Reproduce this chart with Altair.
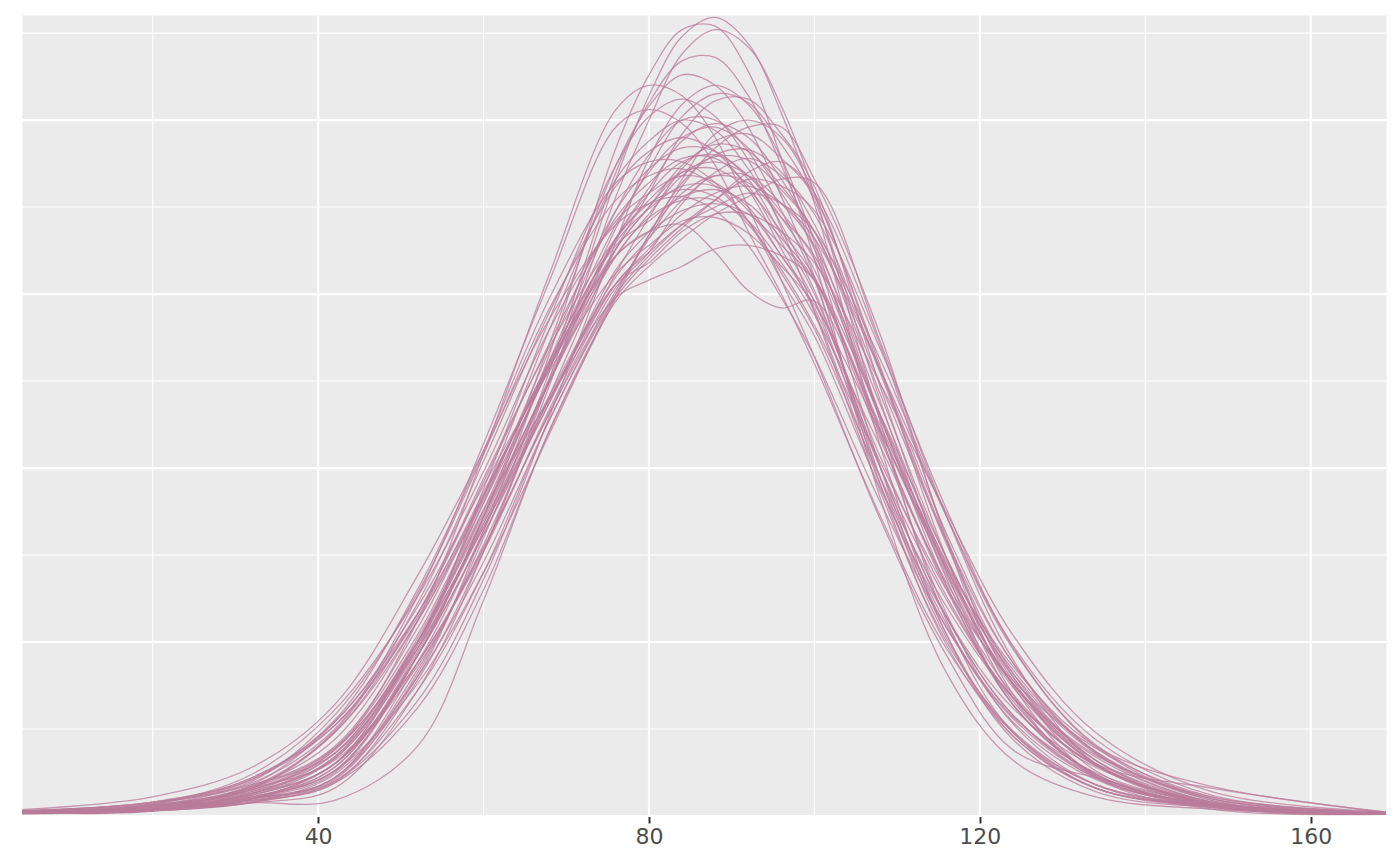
import altair as alt
import pandas as pd

# x positions (same for every draw) at which the density of each draw was read
GRID_X = [4.2, 20, 32, 42, 52, 60, 68, 76, 80, 84, 88, 92, 96, 100, 108, 116, 124, 134, 148, 169.1]

# density values (x 10^-3) of each posterior predictive draw
YREP = {
    "d01": [0.08, 0.15, 0.38, 0.8, 3.6, 7.6, 12.6, 18.3, 20.7, 22.4, 22.95, 22.2, 20.2, 17.6, 10.6, 5.2, 2.2, 0.7, 0.25, 0.07],
    "d02": [0.1, 0.17, 0.45, 1.1, 4.0, 8.2, 13.3, 19.2, 21.3, 22.6, 22.7, 21.4, 18.9, 16.0, 9.1, 4.1, 1.6, 0.55, 0.2, 0.06],
    "d03": [0.1, 0.2, 0.45, 0.95, 3.9, 7.6, 12.4, 17.8, 20.0, 21.9, 22.6, 22.1, 20.4, 17.9, 11.3, 5.6, 2.4, 0.8, 0.3, 0.08],
    "d04": [0.1, 0.2, 0.5, 1.05, 4.1, 8.0, 12.8, 18.5, 20.5, 21.7, 21.8, 20.7, 18.7, 16.3, 10.0, 5.2, 2.3, 0.8, 0.25, 0.07],
    "d05": [0.12, 0.25, 0.55, 1.3, 4.6, 8.6, 13.6, 18.7, 20.4, 21.3, 21.0, 19.8, 17.8, 15.5, 9.5, 4.9, 2.3, 0.8, 0.3, 0.08],
    "d06": [0.15, 0.3, 0.75, 1.9, 5.6, 10.4, 15.6, 20.3, 21.0, 20.7, 19.5, 17.5, 15.4, 13.2, 8.5, 4.6, 1.9, 1.1, 0.35, 0.08],
    "d07": [0.15, 0.38, 0.95, 2.5, 6.3, 10.7, 15.4, 19.8, 20.3, 19.9, 18.7, 16.8, 15.0, 13.0, 8.6, 4.8, 2.4, 0.8, 0.3, 0.08],
    "d08": [0.1, 0.2, 0.5, 1.1, 4.4, 8.2, 12.5, 16.9, 18.6, 20.1, 20.75, 20.5, 19.3, 17.7, 11.9, 6.8, 3.2, 1.2, 0.3, 0.07],
    "d09": [0.1, 0.2, 0.5, 1.1, 4.2, 7.8, 12.1, 16.3, 17.9, 19.6, 20.55, 20.6, 19.6, 18.1, 12.3, 7.0, 3.2, 1.2, 0.3, 0.07],
    "d10": [0.1, 0.15, 0.8, 1.6, 4.4, 7.7, 11.6, 15.1, 16.6, 18.1, 19.2, 19.8, 19.8, 18.3, 13.8, 7.9, 3.5, 1.1, 0.2, 0.05],
    "d11": [0.08, 0.2, 0.38, 0.45, 2.0, 6.2, 11.1, 14.8, 15.8, 16.6, 17.3, 17.8, 18.3, 18.2, 13.6, 8.6, 4.5, 1.5, 0.3, 0.06],
    "d12": [0.1, 0.22, 0.5, 1.25, 4.6, 8.6, 13.1, 17.4, 19.0, 20.0, 20.0, 19.1, 17.4, 15.4, 9.7, 5.1, 2.4, 0.9, 0.3, 0.07],
    "d13": [0.1, 0.25, 0.6, 1.5, 4.6, 8.6, 12.9, 16.1, 16.8, 17.0, 16.2, 15.1, 14.6, 14.8, 10.8, 6.5, 3.3, 1.2, 0.3, 0.07],
    "d14": [0.12, 0.3, 0.7, 1.9, 5.0, 8.8, 12.0, 14.9, 15.4, 15.8, 16.3, 16.4, 16.1, 15.4, 11.5, 7.4, 3.9, 1.3, 0.3, 0.07],
    "d15": [0.12, 0.3, 0.8, 2.45, 6.1, 10.2, 14.5, 18.1, 19.1, 19.5, 19.1, 18.0, 16.3, 14.5, 9.5, 5.4, 2.8, 1.1, 0.3, 0.08],
    "d16": [0.1, 0.28, 0.8, 2.4, 5.8, 9.6, 13.6, 17.2, 18.2, 18.9, 18.9, 18.1, 16.5, 14.8, 9.7, 5.5, 2.7, 1.05, 0.3, 0.07],
    "d17": [0.1, 0.22, 0.85, 2.0, 5.4, 9.2, 13.0, 16.3, 17.5, 18.5, 18.8, 18.4, 17.35, 16.0, 11.4, 7.1, 3.8, 1.6, 0.4, 0.08],
    "d18": [0.08, 0.18, 0.7, 1.65, 4.9, 8.4, 12.1, 15.5, 16.6, 17.7, 18.4, 18.4, 17.6, 16.4, 11.8, 7.2, 3.8, 1.5, 0.35, 0.06],
    "d19": [0.08, 0.18, 0.5, 1.5, 4.3, 7.7, 11.6, 15.2, 16.2, 17.6, 18.5, 18.9, 18.4, 17.3, 12.7, 7.8, 4.0, 1.5, 0.3, 0.06],
    "d20": [0.1, 0.2, 0.6, 1.5, 4.9, 8.8, 13.0, 17.0, 18.5, 19.5, 19.8, 19.2, 17.9, 16.3, 11.4, 6.9, 3.7, 1.5, 0.35, 0.07],
    "d21": [0.14, 0.35, 1.2, 3.05, 6.3, 9.9, 14.0, 17.1, 17.9, 18.4, 18.2, 17.4, 16.1, 14.6, 10.0, 6.2, 3.4, 1.45, 0.4, 0.09],
    "d22": [0.1, 0.2, 0.65, 1.5, 5.0, 8.7, 12.5, 16.3, 17.5, 18.7, 19.3, 19.1, 18.1, 16.8, 12.1, 7.4, 4.0, 1.6, 0.35, 0.07],
    "d23": [0.15, 0.4, 1.0, 2.9, 6.4, 10.4, 14.6, 17.7, 18.4, 18.6, 18.1, 17.1, 15.6, 14.0, 9.7, 6.0, 3.4, 1.5, 0.8, 0.1],
    "d24": [0.08, 0.2, 0.55, 1.3, 4.6, 8.1, 11.9, 15.6, 17.2, 18.6, 19.4, 19.6, 18.9, 17.8, 12.8, 7.9, 4.1, 1.6, 0.3, 0.06],
    "d25": [0.12, 0.3, 0.85, 2.4, 5.6, 9.1, 13.1, 16.4, 17.1, 17.8, 18.0, 17.6, 16.6, 15.4, 11.1, 7.1, 4.1, 1.8, 0.5, 0.1],
    "d26": [0.07, 0.15, 0.4, 1.2, 4.0, 7.3, 11.4, 15.0, 16.1, 17.0, 17.7, 18.3, 18.1, 17.4, 13.4, 8.8, 4.85, 2.0, 0.45, 0.07],
    "d27": [0.1, 0.25, 0.65, 1.7, 5.0, 9.2, 14.0, 18.3, 19.4, 20.0, 19.7, 18.6, 17.0, 15.1, 10.0, 5.7, 2.9, 1.15, 0.3, 0.07],
    "d28": [0.13, 0.32, 0.9, 2.7, 5.8, 9.2, 13.0, 16.1, 16.8, 17.4, 17.6, 17.3, 16.4, 15.4, 11.2, 7.3, 4.2, 1.85, 0.5, 0.1],
    "d29": [0.07, 0.15, 0.4, 1.0, 3.6, 7.0, 11.4, 14.9, 16.0, 16.9, 17.7, 18.5, 18.8, 17.9, 13.5, 8.0, 3.75, 1.15, 0.3, 0.05],
    "d30": [0.12, 0.3, 0.85, 2.2, 5.6, 9.2, 13.1, 16.5, 17.45, 18.1, 18.1, 17.5, 16.1, 14.8, 10.3, 6.3, 3.4, 1.45, 0.35, 0.08],
    "d31": [0.09, 0.2, 0.65, 1.7, 5.0, 8.6, 12.5, 16.1, 17.3, 18.4, 18.95, 18.85, 18.0, 16.8, 12.4, 7.9, 4.4, 1.85, 0.45, 0.07],
    "d32": [0.14, 0.35, 1.05, 2.75, 6.5, 10.5, 14.9, 18.2, 18.8, 18.8, 18.2, 17.1, 15.4, 13.8, 9.4, 5.7, 3.1, 1.4, 0.4, 0.1],
    "d33": [0.1, 0.25, 0.75, 1.8, 5.0, 8.3, 12.0, 15.3, 15.9, 16.8, 17.3, 17.3, 16.8, 15.9, 12.4, 8.7, 5.2, 2.4, 0.7, 0.12],
    "d34": [0.1, 0.22, 0.65, 1.8, 5.1, 9.0, 13.4, 17.4, 18.6, 19.2, 19.1, 18.3, 16.7, 15.0, 10.0, 5.7, 2.9, 1.1, 0.3, 0.07],
    "d35": [0.08, 0.18, 0.5, 1.5, 4.4, 7.6, 11.7, 15.3, 16.2, 17.0, 17.5, 17.9, 17.6, 16.8, 13.1, 8.6, 4.8, 2.05, 0.5, 0.08],
    "d36": [0.15, 0.4, 1.1, 2.7, 6.0, 9.5, 12.8, 15.6, 16.4, 17.1, 17.2, 16.75, 15.8, 14.7, 11.0, 7.2, 4.3, 2.0, 0.85, 0.12],
    "d37": [0.18, 0.55, 1.4, 3.2, 6.9, 10.5, 14.3, 17.0, 17.6, 17.8, 17.4, 16.4, 14.9, 13.2, 9.0, 5.4, 2.85, 1.25, 0.35, 0.09],
    "d38": [0.08, 0.18, 0.55, 1.4, 4.6, 8.1, 12.0, 15.3, 16.3, 17.3, 17.9, 18.1, 17.6, 16.6, 12.8, 8.6, 4.9, 2.2, 0.6, 0.09],
    "d39": [0.09, 0.2, 0.5, 1.4, 4.7, 8.4, 12.5, 16.6, 18.05, 19.4, 19.9, 19.5, 18.3, 16.6, 11.5, 6.6, 3.2, 1.2, 0.3, 0.06],
    "d40": [0.11, 0.26, 0.75, 1.95, 5.2, 9.0, 12.9, 16.6, 17.7, 18.5, 18.6, 18.0, 16.8, 15.5, 11.05, 7.0, 3.8, 1.7, 0.4, 0.08],
    "d41": [0.1, 0.3, 0.9, 1.8, 4.8, 8.5, 12.6, 16.6, 17.9, 18.8, 19.0, 18.4, 17.2, 15.7, 10.9, 6.6, 3.5, 1.45, 0.35, 0.08],
    "d42": [0.12, 0.3, 0.6, 1.65, 4.8, 9.4, 14.3, 18.7, 20.1, 20.6, 20.1, 18.85, 16.9, 14.5, 9.3, 5.0, 2.45, 0.9, 0.3, 0.07],
    "d43": [0.08, 0.18, 0.5, 1.3, 3.8, 7.0, 11.0, 15.0, 16.7, 18.2, 19.0, 19.15, 18.5, 17.0, 12.8, 8.1, 4.4, 1.8, 0.4, 0.07],
    "d44": [0.13, 0.33, 1.1, 2.6, 5.7, 9.3, 12.9, 16.1, 17.2, 17.7, 17.7, 17.1, 15.9, 14.4, 10.6, 6.7, 3.8, 1.75, 0.55, 0.1],
    "d45": [0.09, 0.18, 0.45, 1.0, 3.3, 6.8, 11.5, 16.5, 18.9, 20.45, 21.0, 20.45, 18.9, 16.5, 11.0, 5.8, 2.65, 0.9, 0.25, 0.06],
    "d46": [0.07, 0.15, 0.4, 0.95, 3.1, 6.5, 11.1, 14.9, 16.7, 18.3, 19.6, 20.0, 19.5, 17.9, 12.9, 7.4, 3.4, 1.15, 0.25, 0.05],
    "d47": [0.14, 0.4, 1.05, 2.6, 5.8, 9.7, 13.5, 16.6, 17.6, 18.0, 17.8, 17.0, 15.7, 14.1, 10.15, 6.5, 3.9, 1.95, 0.55, 0.1],
    "d48": [0.1, 0.22, 0.8, 1.95, 4.8, 8.3, 11.9, 15.7, 16.8, 17.9, 18.4, 18.2, 17.2, 16.1, 11.5, 7.1, 3.8, 1.5, 0.35, 0.07],
}

X_LABEL_TICKS = [40, 80, 120, 160]
X_MINOR = [20, 60, 100, 140]
Y_MAJOR = [0, 5, 10, 15, 20]
Y_MINOR = [2.5, 7.5, 12.5, 17.5, 22.5]
X_DOMAIN = [4.2, 169.1]
Y_DOMAIN = [0, 23.02]

rows = []
for draw, vals in YREP.items():
    if len(vals) != len(GRID_X):
        raise ValueError(f"{draw} has {len(vals)} values")
    for x, v in zip(GRID_X, vals):
        rows.append({"x": x, "density": v, "draw": draw})
df = pd.DataFrame(rows)

xscale = alt.Scale(domain=X_DOMAIN, nice=False, zero=False)
yscale = alt.Scale(domain=Y_DOMAIN, nice=False, zero=False)
xaxis = alt.Axis(
    values=X_LABEL_TICKS, grid=False, domain=False, title=None,
    ticks=True, tickColor="#333333", tickWidth=2, tickSize=7,
    labelColor="#4D4D4D", labelFont="DejaVu Sans", labelFontSize=22,
    labelPadding=3, format="d",
)

def xrules(vals, width):
    return alt.Chart(pd.DataFrame({"x": vals})).mark_rule(
        color="white", strokeWidth=width
    ).encode(x=alt.X("x:Q", scale=xscale, axis=xaxis))

def yrules(vals, width):
    return alt.Chart(pd.DataFrame({"density": vals})).mark_rule(
        color="white", strokeWidth=width
    ).encode(y=alt.Y("density:Q", scale=yscale, axis=None))

lines = alt.Chart(df).mark_line(
    interpolate="catmull-rom", stroke="#b97c9b", strokeOpacity=0.75,
    strokeWidth=1.3, clip=True,
).encode(
    x=alt.X("x:Q", scale=xscale, axis=xaxis),
    y=alt.Y("density:Q", scale=yscale, axis=None),
    detail="draw:N",
)

chart = alt.layer(
    yrules(Y_MINOR, 1.1), xrules(X_MINOR, 1.1),
    yrules(Y_MAJOR, 2.2), xrules(X_LABEL_TICKS, 2.2),
    lines,
).properties(
    width=1364, height=801,
    padding={"left": 14, "top": 7, "right": 6, "bottom": 45},
    autosize=alt.AutoSizeParams(type="none"),
).configure_view(fill="#EBEBEB", stroke="transparent")

chart.save("out.html", embed_options={"renderer": "svg", "actions": False})
